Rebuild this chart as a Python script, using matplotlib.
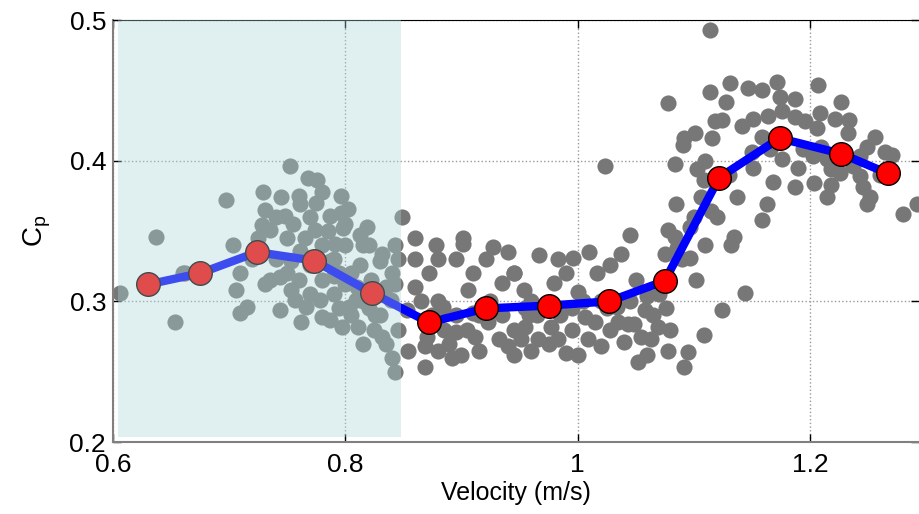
import numpy as np
import matplotlib
matplotlib.use("Agg")
import matplotlib.pyplot as plt
from matplotlib.patches import Rectangle

# binned mean power coefficient
bin_velocity = [0.630, 0.675, 0.724, 0.773, 0.823, 0.872, 0.921, 0.975,
                1.027, 1.075, 1.122, 1.174, 1.227, 1.267]
bin_cp = [0.312, 0.320, 0.335, 0.329, 0.306, 0.285, 0.295, 0.297,
          0.300, 0.3145, 0.388, 0.416, 0.405, 0.391]

# raw samples (velocity, Cp)
raw_velocity = [
    0.606, 0.653, 0.660, 0.637, 0.662, 0.697, 0.729, 0.752, 0.745, 0.731, 0.768,
    0.709, 0.706, 0.715, 0.709, 0.735, 0.744, 0.757, 0.762, 0.766,
    0.735, 0.748, 0.761, 0.774, 0.787, 0.761, 0.728, 0.753, 0.787, 0.800,
    0.813, 0.822, 0.809, 0.800, 0.778, 0.753, 0.731, 0.744, 0.787, 0.826,
    0.839, 0.843, 0.830, 0.843, 0.813, 0.770, 0.703, 0.720, 0.790, 0.815,
    0.832, 0.840, 0.843, 0.832, 0.811, 0.797, 0.780, 0.803, 0.791,
    0.849, 0.796, 0.802, 0.796, 0.819, 0.776, 0.798, 0.901,
    0.740, 0.750, 0.755, 0.765, 0.770, 0.775, 0.780, 0.785, 0.790, 0.795,
    0.805, 0.810, 0.815, 0.820, 0.825, 0.830, 0.835, 0.840, 0.845, 0.790,
    0.780, 0.770, 0.760, 0.750, 0.805, 0.815, 0.835, 0.845, 0.795, 0.740,
    0.725, 0.760, 0.780, 0.800, 0.820,
    0.860, 0.872, 0.895, 0.901, 0.927, 0.921, 0.935, 0.906, 0.860, 0.884,
    0.895, 0.889, 0.869, 0.892, 0.854, 0.912, 0.932, 0.923, 0.940, 0.853,
    0.869, 0.878, 0.880, 0.910, 0.945, 0.958,
    0.865, 0.875, 0.885, 0.895, 0.905, 0.915, 0.925, 0.935, 0.945, 0.955,
    0.965, 0.975, 0.985, 0.995, 1.005, 1.015, 1.025, 1.035, 1.045, 1.055,
    1.065, 1.070, 1.080, 0.870, 0.880, 0.900, 0.915, 0.945, 0.960, 1.000,
    1.020, 1.060, 0.910, 0.945, 0.990, 1.050, 0.940, 1.010, 0.880, 0.860,
    0.967, 0.983, 0.996, 1.037, 1.028, 1.017, 0.954, 0.980, 1.000, 1.006,
    1.009, 0.983, 0.990, 0.966, 0.951, 0.955, 0.977, 1.028, 1.040, 1.052,
    1.063, 1.069, 1.078, 1.092, 1.095, 1.043, 1.058, 1.076, 1.060, 1.102,
    1.109, 1.075, 1.086, 1.097, 1.034, 1.049, 1.020, 0.995, 0.960,
    1.114, 1.114, 1.078, 1.101, 1.092, 1.091, 1.116, 1.118, 1.084, 1.024,
    1.103, 1.109, 1.085, 1.106, 1.115, 1.097, 1.045, 1.084,
    1.131, 1.147, 1.159, 1.172, 1.174, 1.187, 1.207, 1.227, 1.128, 1.124,
    1.142, 1.151, 1.164, 1.176, 1.187, 1.196, 1.206, 1.209, 1.222, 1.234,
    1.233, 1.256, 1.265, 1.271, 1.249, 1.243, 1.237, 1.243, 1.246, 1.252,
    1.249, 1.280, 1.292, 1.159, 1.166, 1.176, 1.194, 1.203, 1.215, 1.218,
    1.226, 1.150, 1.151, 1.168, 1.187, 1.204, 1.218, 1.215, 1.137, 1.163,
    1.159, 1.135, 1.144, 1.124, 1.132, 1.078,
    1.110, 1.120, 1.130, 1.190, 1.210, 1.260, 1.100, 1.090, 1.110,
]
raw_cp = [
    0.306, 0.285, 0.320, 0.346, 0.320, 0.372, 0.378, 0.396, 0.374, 0.365, 0.388,
    0.320, 0.308, 0.296, 0.292, 0.315, 0.317, 0.301, 0.285, 0.296,
    0.351, 0.361, 0.336, 0.351, 0.361, 0.369, 0.354, 0.329, 0.329, 0.340,
    0.326, 0.315, 0.301, 0.312, 0.301, 0.308, 0.312, 0.294, 0.287, 0.290,
    0.301, 0.312, 0.329, 0.340, 0.347, 0.326, 0.340, 0.330, 0.318, 0.340,
    0.334, 0.260, 0.250, 0.275, 0.282, 0.282, 0.289, 0.296, 0.341,
    0.360, 0.375, 0.366, 0.363, 0.353, 0.386, 0.352, 0.345,
    0.330, 0.345, 0.355, 0.345, 0.360, 0.370, 0.340, 0.350, 0.330, 0.320,
    0.320, 0.310, 0.300, 0.295, 0.280, 0.290, 0.310, 0.320, 0.330, 0.305,
    0.315, 0.305, 0.315, 0.320, 0.290, 0.270, 0.270, 0.280, 0.295, 0.360,
    0.345, 0.375, 0.378, 0.355, 0.340,
    0.330, 0.320, 0.330, 0.341, 0.339, 0.330, 0.313, 0.308, 0.310, 0.296,
    0.278, 0.270, 0.253, 0.260, 0.265, 0.275, 0.273, 0.285, 0.268, 0.294,
    0.268, 0.340, 0.300, 0.292, 0.320, 0.290,
    0.300, 0.290, 0.280, 0.290, 0.280, 0.290, 0.300, 0.290, 0.280, 0.295,
    0.290, 0.270, 0.290, 0.280, 0.300, 0.285, 0.295, 0.285, 0.300, 0.275,
    0.290, 0.305, 0.280, 0.275, 0.265, 0.262, 0.265, 0.262, 0.265, 0.262,
    0.268, 0.262, 0.320, 0.320, 0.320, 0.315, 0.335, 0.335, 0.330, 0.345,
    0.333, 0.330, 0.331, 0.334, 0.326, 0.320, 0.308, 0.313, 0.307, 0.289,
    0.273, 0.273, 0.263, 0.273, 0.273, 0.282, 0.282, 0.280, 0.271, 0.257,
    0.273, 0.282, 0.265, 0.253, 0.264, 0.284, 0.294, 0.295, 0.304, 0.315,
    0.276, 0.334, 0.338, 0.331, 0.296, 0.284, 0.300, 0.295, 0.300,
    0.493, 0.449, 0.441, 0.420, 0.416, 0.411, 0.416, 0.428, 0.398, 0.396,
    0.394, 0.386, 0.369, 0.374, 0.364, 0.353, 0.347, 0.346,
    0.455, 0.452, 0.450, 0.456, 0.445, 0.444, 0.454, 0.442, 0.442, 0.429,
    0.425, 0.430, 0.432, 0.435, 0.431, 0.428, 0.423, 0.434, 0.430, 0.429,
    0.420, 0.417, 0.406, 0.404, 0.410, 0.403, 0.396, 0.389, 0.381, 0.374,
    0.369, 0.362, 0.369, 0.417, 0.408, 0.401, 0.408, 0.403, 0.401, 0.394,
    0.391, 0.406, 0.395, 0.385, 0.381, 0.384, 0.383, 0.374, 0.374, 0.369,
    0.358, 0.346, 0.306, 0.294, 0.340, 0.351,
    0.400, 0.360, 0.390, 0.395, 0.410, 0.390, 0.360, 0.330, 0.340,
]

plt.rcParams['font.family'] = ['Liberation Sans', 'DejaVu Sans']

fig = plt.figure(figsize=(9.19, 5.14), dpi=100)
ax = fig.add_axes([0.123, 0.140, 0.877, 0.821])

ax.scatter(raw_velocity, raw_cp, s=135, color='#777777', linewidths=0, zorder=2)
ax.plot(bin_velocity, bin_cp, color='#0000ff', linewidth=6, zorder=3)
ax.plot(bin_velocity, bin_cp, linestyle='none', marker='o', markersize=17,
        markerfacecolor='#ff0000', markeredgecolor='black', markeredgewidth=1.0, zorder=4)

# shaded low-velocity region, drawn over the data
ax.add_patch(Rectangle((0.604, 0.2035), 0.244, 0.2965, facecolor=(0.67, 0.83, 0.83),
                       alpha=0.36, edgecolor='none', zorder=5))

ax.set_xlim(0.6, 1.294)
ax.set_ylim(0.2, 0.5)
ax.set_xticks([0.6, 0.8, 1.0, 1.2])
ax.set_xticklabels(['0.6', '0.8', '1', '1.2'])
ax.set_yticks([0.2, 0.3, 0.4, 0.5])
ax.set_yticklabels(['0.2', '0.3', '0.4', '0.5'])
ax.grid(True, linestyle=':', color='#999999', linewidth=1.0, zorder=1)
ax.set_axisbelow(True)
ax.tick_params(direction='in', length=6, width=1, top=True, right=True,
               labelsize=19, colors='black')
ax.tick_params(axis='x', pad=8)
ax.tick_params(axis='y', pad=5)

for side in ['left', 'bottom']:
    ax.spines[side].set_color('#808080')
    ax.spines[side].set_linewidth(1.5)
ax.spines['top'].set_color('black')
ax.spines['right'].set_visible(False)

ax.set_xlabel('Velocity (m/s)', fontsize=18, labelpad=3)
ax.set_ylabel(r'C$_\mathregular{p}$', fontsize=20, labelpad=12)

fig.savefig('out.png', dpi=100)
